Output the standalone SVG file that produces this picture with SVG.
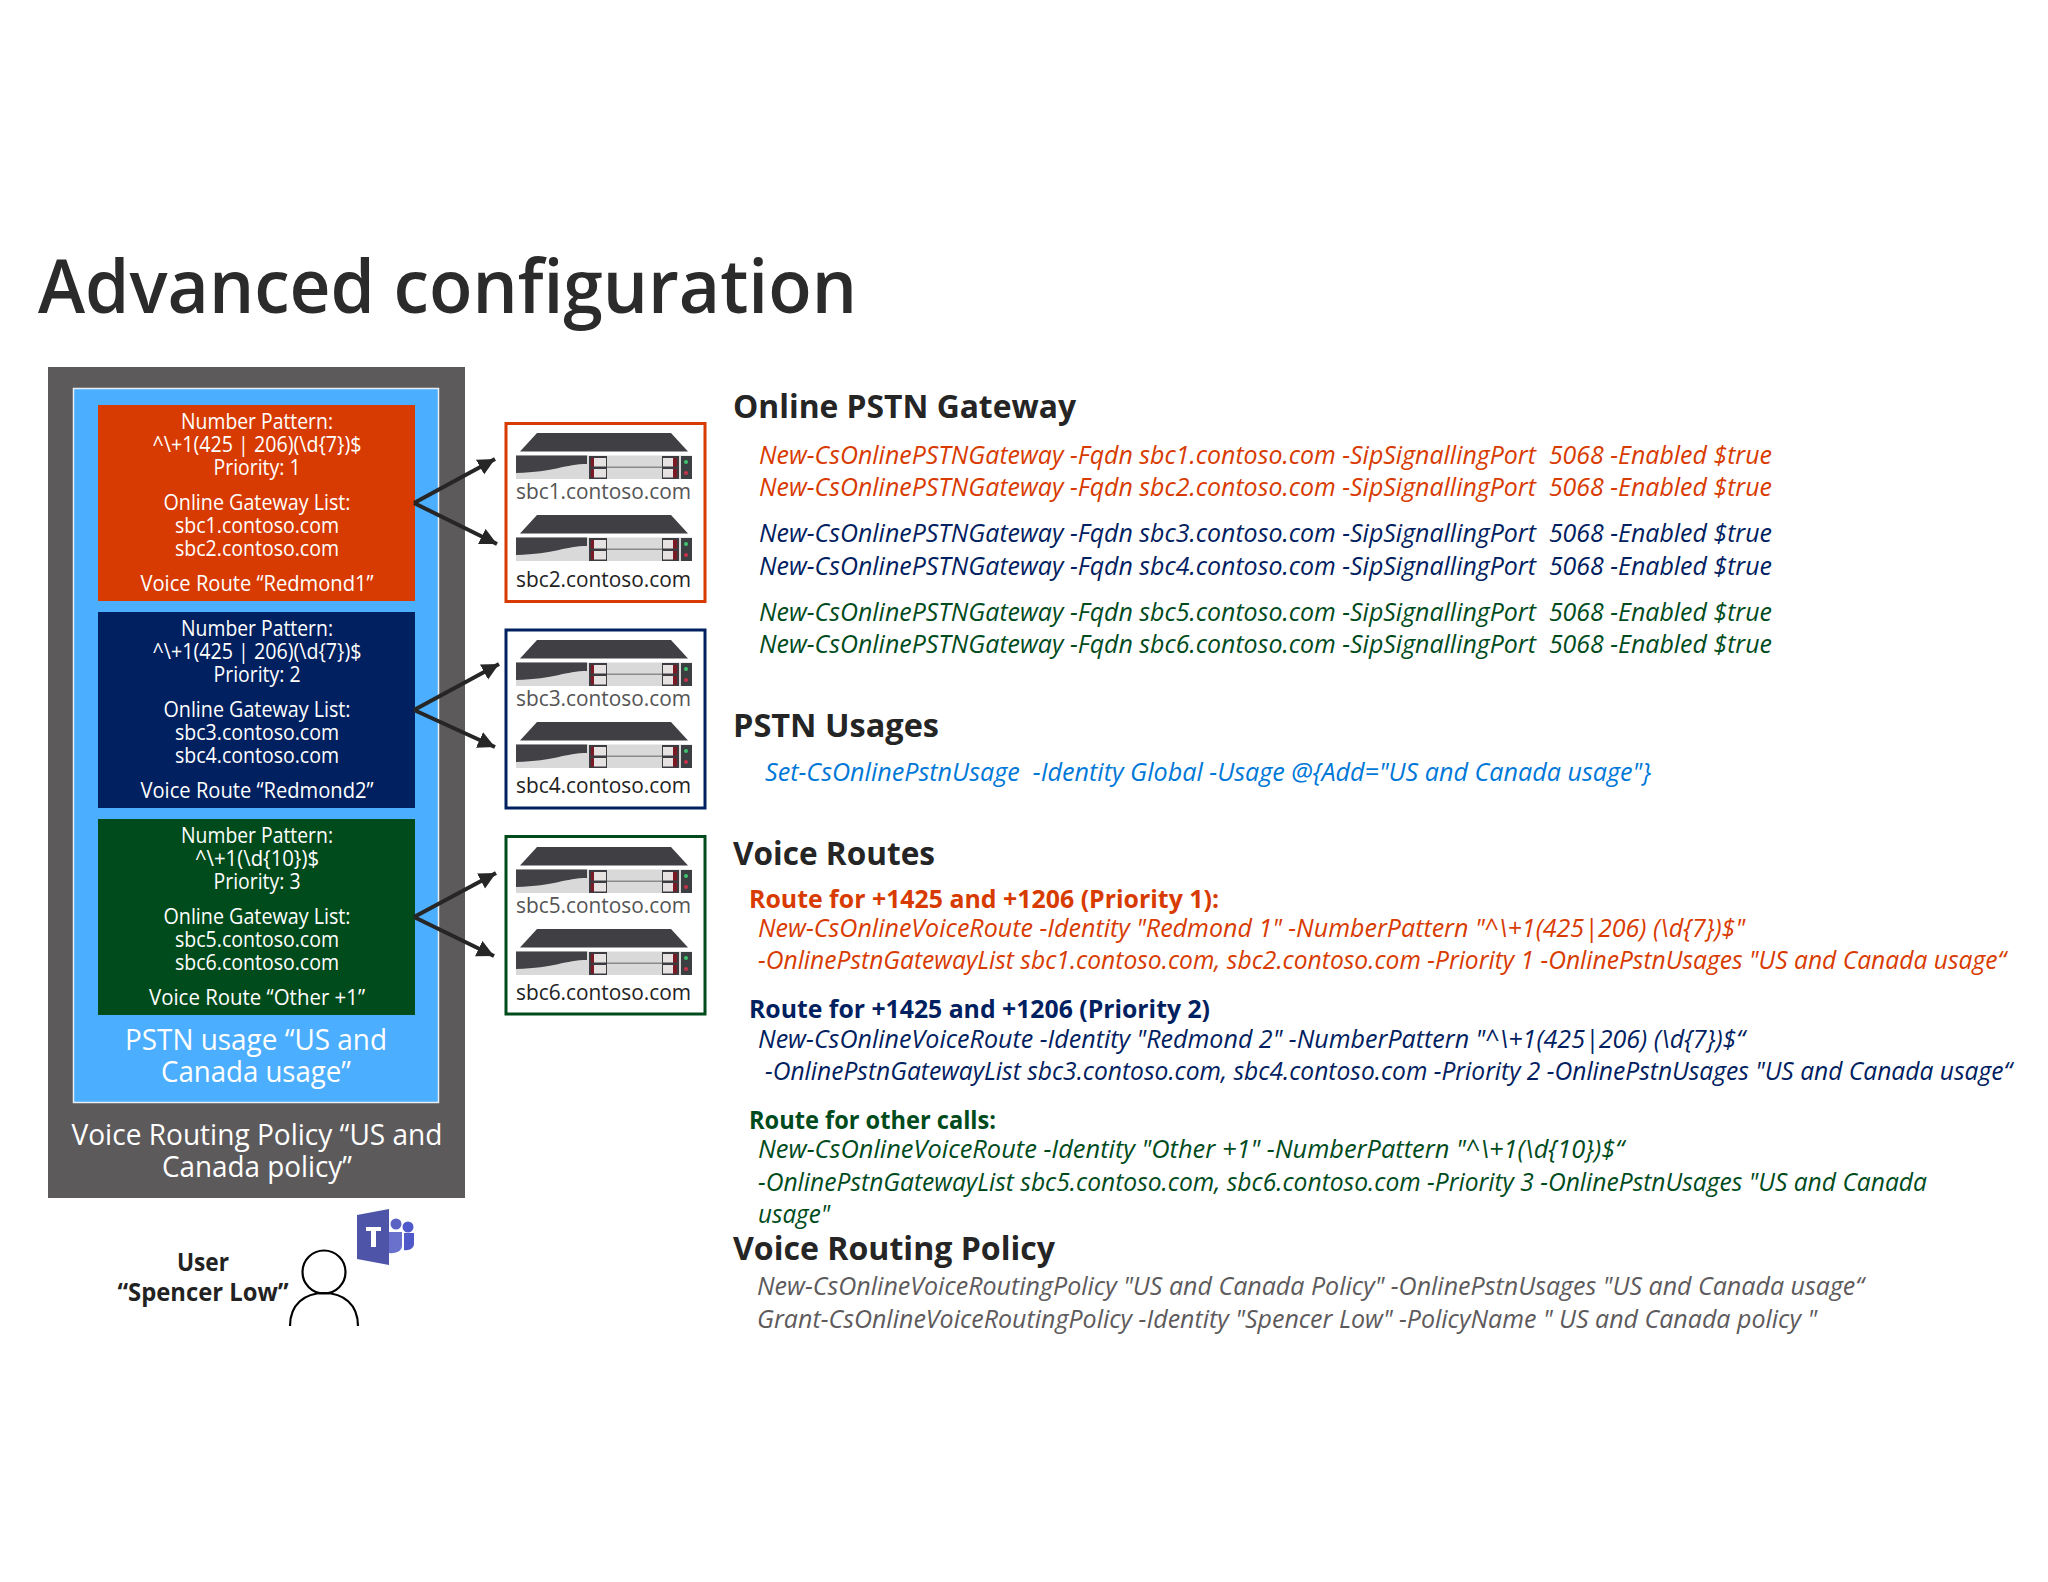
<svg xmlns="http://www.w3.org/2000/svg" xmlns:xlink="http://www.w3.org/1999/xlink" width="2048" height="1582" viewBox="0 0 2048 1582">
<style>
text{font-family:"Open Sans","Noto Sans","Liberation Sans",sans-serif}
.w{fill:#fff;font-size:21px;text-anchor:middle}
.w2{fill:#fff;font-size:30px;text-anchor:middle}
.h{fill:#252525;font-size:32px;font-weight:700}
.c{font-size:25px;font-style:italic;white-space:pre}
.r{font-size:25px;font-weight:700}
.red{fill:#d83b01}.navy{fill:#002060}.green{fill:#004b1c}.grey{fill:#5d5a5c}.blue{fill:#0078d7}
.lab{font-size:22px}
.sb{fill:none;stroke-width:2.200px;stroke:#000}
.ar{fill:none;stroke:#262626;stroke-width:4px;marker-end:url(#ah)}
</style>
<defs>
<marker id="ah" markerUnits="userSpaceOnUse" markerWidth="20" markerHeight="18" refX="17" refY="8.500" orient="auto"><path d="M0 0L17 8.500L0 17Z" fill="#262626"/></marker>
<g id="server">
<path d="M520 451.500L537 433H671L688 451.500Z" fill="#3f3f44"/>
<rect x="516" y="455.500" width="176" height="23.500" fill="#d9d9d9"/>
<path d="M516 455.500H587V464C565 464 555 472 516 473Z" fill="#414146"/>
<rect x="589" y="456" width="18" height="23" fill="#3c3c40"/>
<rect x="594" y="458" width="12" height="8.500" fill="#e6e2e2"/><rect x="594" y="469" width="12" height="8.500" fill="#e6e2e2"/>
<rect x="591" y="458" width="3" height="8.500" fill="#7a1a24"/><rect x="591" y="469" width="3" height="8.500" fill="#7a1a24"/>
<rect x="607" y="466.500" width="55" height="1.500" fill="#8a8a8a"/>
<rect x="662" y="456" width="17" height="23" fill="#3c3c40"/>
<rect x="663" y="458" width="10" height="8.500" fill="#e6e2e2"/><rect x="663" y="469" width="10" height="8.500" fill="#e6e2e2"/>
<rect x="673" y="458" width="4" height="8.500" fill="#7a1a24"/><rect x="673" y="469" width="4" height="8.500" fill="#7a1a24"/>
<rect x="681" y="456" width="11" height="23" fill="#3c3f42"/>
<circle cx="686" cy="462" r="2" fill="#3ec46d"/><circle cx="686" cy="473" r="2" fill="#c8324a"/>
</g>
</defs>
<rect width="2048" height="1582" fill="#fff"/>
<text x="38" y="313" font-size="74" font-weight="600" fill="#2b2b2b" textLength="819" lengthAdjust="spacingAndGlyphs">Advanced configuration</text>

<g id="policy">
<rect x="48" y="367" width="417" height="831" fill="#5d5a5c"/>
<text class="w2" x="257" y="1145" textLength="371" lengthAdjust="spacingAndGlyphs">Voice Routing Policy “US and</text>
<text class="w2" x="257" y="1177" textLength="190" lengthAdjust="spacingAndGlyphs">Canada policy”</text>
</g>
<g id="usage">
<rect x="73.500" y="388.500" width="365" height="714" fill="#4caeff" stroke="#e8eef4" stroke-width="1.500"/>
<text class="w2" x="256" y="1050" textLength="262" lengthAdjust="spacingAndGlyphs">PSTN usage “US and</text>
<text class="w2" x="256" y="1082" textLength="190" lengthAdjust="spacingAndGlyphs">Canada usage”</text>
</g>
<g id="route1">
<rect x="98" y="405" width="317" height="196" fill="#d83b01"/>
<text class="w" x="257" y="429" textLength="152" lengthAdjust="spacingAndGlyphs">Number Pattern:</text>
<text class="w" x="257" y="452" textLength="209" lengthAdjust="spacingAndGlyphs">^\+1(425 | 206)(\d{7})$</text>
<text class="w" x="257" y="475" textLength="87" lengthAdjust="spacingAndGlyphs">Priority: 1</text>
<text class="w" x="257" y="510" textLength="187" lengthAdjust="spacingAndGlyphs">Online Gateway List:</text>
<text class="w" x="257" y="533" textLength="164" lengthAdjust="spacingAndGlyphs">sbc1.contoso.com</text>
<text class="w" x="257" y="556" textLength="164" lengthAdjust="spacingAndGlyphs">sbc2.contoso.com</text>
<text class="w" x="257" y="591" textLength="233" lengthAdjust="spacingAndGlyphs">Voice Route “Redmond1”</text>
</g>
<g id="route2">
<rect x="98" y="612" width="317" height="196" fill="#002060"/>
<text class="w" x="257" y="636" textLength="152" lengthAdjust="spacingAndGlyphs">Number Pattern:</text>
<text class="w" x="257" y="659" textLength="209" lengthAdjust="spacingAndGlyphs">^\+1(425 | 206)(\d{7})$</text>
<text class="w" x="257" y="682" textLength="87" lengthAdjust="spacingAndGlyphs">Priority: 2</text>
<text class="w" x="257" y="717" textLength="187" lengthAdjust="spacingAndGlyphs">Online Gateway List:</text>
<text class="w" x="257" y="740" textLength="164" lengthAdjust="spacingAndGlyphs">sbc3.contoso.com</text>
<text class="w" x="257" y="763" textLength="164" lengthAdjust="spacingAndGlyphs">sbc4.contoso.com</text>
<text class="w" x="257" y="798" textLength="233" lengthAdjust="spacingAndGlyphs">Voice Route “Redmond2”</text>
</g>
<g id="route3">
<rect x="98" y="819" width="317" height="196" fill="#004b1c"/>
<text class="w" x="257" y="843" textLength="152" lengthAdjust="spacingAndGlyphs">Number Pattern:</text>
<text class="w" x="257" y="866" textLength="124" lengthAdjust="spacingAndGlyphs">^\+1(\d{10})$</text>
<text class="w" x="257" y="889" textLength="87" lengthAdjust="spacingAndGlyphs">Priority: 3</text>
<text class="w" x="257" y="924" textLength="187" lengthAdjust="spacingAndGlyphs">Online Gateway List:</text>
<text class="w" x="257" y="947" textLength="164" lengthAdjust="spacingAndGlyphs">sbc5.contoso.com</text>
<text class="w" x="257" y="970" textLength="164" lengthAdjust="spacingAndGlyphs">sbc6.contoso.com</text>
<text class="w" x="257" y="1005" textLength="216" lengthAdjust="spacingAndGlyphs">Voice Route “Other +1”</text>
</g>

<g id="sbc-group-1">
<rect x="506" y="423.500" width="199" height="178" fill="#fff" stroke="#d83b01" stroke-width="3"/>
<use xlink:href="#server" href="#server"/>
<use xlink:href="#server" href="#server" y="82"/>
<text class="lab" x="516" y="499" fill="#555" textLength="175" lengthAdjust="spacingAndGlyphs">sbc1.contoso.com</text>
<text class="lab" x="516" y="587" fill="#222" textLength="175" lengthAdjust="spacingAndGlyphs">sbc2.contoso.com</text>
</g>
<g id="sbc-group-2">
<rect x="506" y="630" width="199" height="178" fill="#fff" stroke="#002060" stroke-width="3"/>
<use xlink:href="#server" href="#server" y="207"/>
<use xlink:href="#server" href="#server" y="289"/>
<text class="lab" x="516" y="706" fill="#555" textLength="175" lengthAdjust="spacingAndGlyphs">sbc3.contoso.com</text>
<text class="lab" x="516" y="793" fill="#222" textLength="175" lengthAdjust="spacingAndGlyphs">sbc4.contoso.com</text>
</g>
<g id="sbc-group-3">
<rect x="506" y="836.500" width="199" height="177.500" fill="#fff" stroke="#004b1c" stroke-width="3"/>
<use xlink:href="#server" href="#server" y="414"/>
<use xlink:href="#server" href="#server" y="496"/>
<text class="lab" x="516" y="913" fill="#555" textLength="175" lengthAdjust="spacingAndGlyphs">sbc5.contoso.com</text>
<text class="lab" x="516" y="1000" fill="#222" textLength="175" lengthAdjust="spacingAndGlyphs">sbc6.contoso.com</text>
</g>

<g id="connectors">
<path class="ar" d="M414 503L495 459"/>
<path class="ar" d="M414 503L497 544"/>
<path class="ar" d="M414 710L499 664"/>
<path class="ar" d="M414 710L495 747"/>
<path class="ar" d="M414 917L496 873"/>
<path class="ar" d="M414 917L494 956"/>
</g>

<g id="user">
<text x="203" y="1271" font-size="25" font-weight="700" fill="#222" text-anchor="middle" textLength="52" lengthAdjust="spacingAndGlyphs">User</text>
<text x="203" y="1301" font-size="25" font-weight="700" fill="#222" text-anchor="middle" textLength="171" lengthAdjust="spacingAndGlyphs">“Spencer Low”</text>
<circle class="sb" cx="324" cy="1272" r="21.500"/>
<path class="sb" d="M290 1326C290 1304 305 1293 324 1293C343 1293 358 1304 358 1326"/>
</g>
<g id="teams">
<circle cx="396" cy="1224" r="5.500" fill="#5a62c4"/>
<circle cx="408" cy="1227" r="5.500" fill="#5059c9"/>
<path d="M404 1233H414V1244C414 1248 409 1251 404 1250Z" fill="#5059c9"/>
<path d="M389 1232H402V1246C402 1251 395 1254 389 1253Z" fill="#6a71cc"/>
<path d="M357 1215L389 1209V1265L357 1259Z" fill="#4e55a8"/>
<path d="M366 1227H381V1231H376V1247H371V1231H366Z" fill="#fff"/>
</g>

<g id="gateway-section">
<text class="h" x="733" y="418" textLength="343" lengthAdjust="spacingAndGlyphs">Online PSTN Gateway</text>
<text class="c red" x="759" y="464" textLength="1013" lengthAdjust="spacingAndGlyphs">New-CsOnlinePSTNGateway -Fqdn sbc1.contoso.com -SipSignallingPort  5068 -Enabled $true</text>
<text class="c red" x="759" y="496" textLength="1013" lengthAdjust="spacingAndGlyphs">New-CsOnlinePSTNGateway -Fqdn sbc2.contoso.com -SipSignallingPort  5068 -Enabled $true</text>
<text class="c navy" x="759" y="542" textLength="1013" lengthAdjust="spacingAndGlyphs">New-CsOnlinePSTNGateway -Fqdn sbc3.contoso.com -SipSignallingPort  5068 -Enabled $true</text>
<text class="c navy" x="759" y="575" textLength="1013" lengthAdjust="spacingAndGlyphs">New-CsOnlinePSTNGateway -Fqdn sbc4.contoso.com -SipSignallingPort  5068 -Enabled $true</text>
<text class="c green" x="759" y="621" textLength="1013" lengthAdjust="spacingAndGlyphs">New-CsOnlinePSTNGateway -Fqdn sbc5.contoso.com -SipSignallingPort  5068 -Enabled $true</text>
<text class="c green" x="759" y="653" textLength="1013" lengthAdjust="spacingAndGlyphs">New-CsOnlinePSTNGateway -Fqdn sbc6.contoso.com -SipSignallingPort  5068 -Enabled $true</text>
</g>
<g id="usages-section">
<text class="h" x="733" y="737" textLength="206" lengthAdjust="spacingAndGlyphs">PSTN Usages</text>
<text class="c blue" x="765" y="781" textLength="886" lengthAdjust="spacingAndGlyphs">Set-CsOnlinePstnUsage  -Identity Global -Usage @{Add="US and Canada usage"}</text>
</g>
<g id="routes-section">
<text class="h" x="733" y="865" textLength="202" lengthAdjust="spacingAndGlyphs">Voice Routes</text>
<text class="r red" x="749" y="908" textLength="470" lengthAdjust="spacingAndGlyphs">Route for +1425 and +1206 (Priority 1):</text>
<text class="c red" x="758" y="937" textLength="987" lengthAdjust="spacingAndGlyphs">New-CsOnlineVoiceRoute -Identity "Redmond 1" -NumberPattern "^\+1(425|206) (\d{7})$"</text>
<text class="c red" x="758" y="969" textLength="1248" lengthAdjust="spacingAndGlyphs">-OnlinePstnGatewayList sbc1.contoso.com, sbc2.contoso.com -Priority 1 -OnlinePstnUsages "US and Canada usage“</text>
<text class="r navy" x="749" y="1018" textLength="461" lengthAdjust="spacingAndGlyphs">Route for +1425 and +1206 (Priority 2)</text>
<text class="c navy" x="758" y="1048" textLength="987" lengthAdjust="spacingAndGlyphs">New-CsOnlineVoiceRoute -Identity "Redmond 2" -NumberPattern "^\+1(425|206) (\d{7})$“</text>
<text class="c navy" x="765" y="1080" textLength="1247" lengthAdjust="spacingAndGlyphs">-OnlinePstnGatewayList sbc3.contoso.com, sbc4.contoso.com -Priority 2 -OnlinePstnUsages "US and Canada usage“</text>
<text class="r green" x="749" y="1129" textLength="247" lengthAdjust="spacingAndGlyphs">Route for other calls:</text>
<text class="c green" x="758" y="1158" textLength="866" lengthAdjust="spacingAndGlyphs">New-CsOnlineVoiceRoute -Identity "Other +1" -NumberPattern "^\+1(\d{10})$“</text>
<text class="c green" x="758" y="1191" textLength="1169" lengthAdjust="spacingAndGlyphs">-OnlinePstnGatewayList sbc5.contoso.com, sbc6.contoso.com -Priority 3 -OnlinePstnUsages "US and Canada</text>
<text class="c green" x="758" y="1223" textLength="72" lengthAdjust="spacingAndGlyphs">usage"</text>
</g>
<g id="policy-section">
<text class="h" x="733" y="1260" textLength="322" lengthAdjust="spacingAndGlyphs">Voice Routing Policy</text>
<text class="c grey" x="757" y="1295" textLength="1107" lengthAdjust="spacingAndGlyphs">New-CsOnlineVoiceRoutingPolicy "US and Canada Policy" -OnlinePstnUsages "US and Canada usage“</text>
<text class="c grey" x="757" y="1328" textLength="1060" lengthAdjust="spacingAndGlyphs">Grant-CsOnlineVoiceRoutingPolicy -Identity "Spencer Low" -PolicyName " US and Canada policy "</text>
</g>
</svg>
